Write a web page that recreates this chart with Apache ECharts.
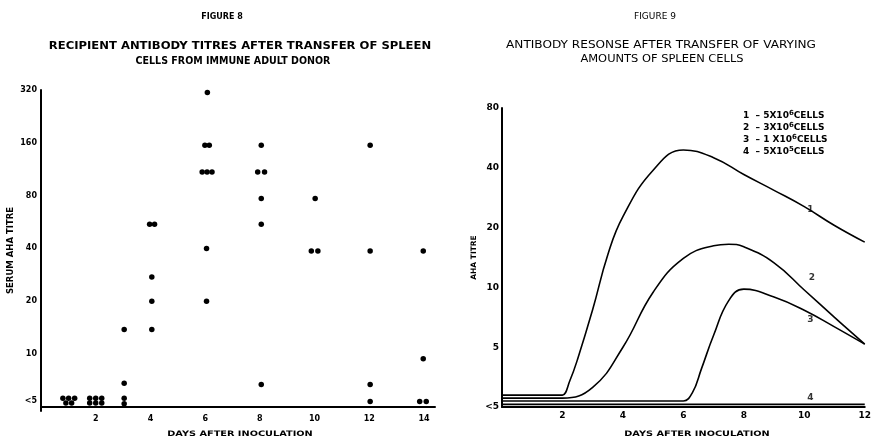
<!DOCTYPE html>
<html><head><meta charset="utf-8">
<script src="https://cdn.jsdelivr.net/npm/echarts@6/dist/echarts.min.js"></script>
<style>html,body{margin:0;padding:0;background:#fff}#c{width:874px;height:441px}</style>
</head><body><div id="c"></div>
<script>
// ---- Figure 8 : individual recipient titres (scatter) ----
const fig8Days = [0.80,1.01,1.23,0.91,1.12, 1.78,2.0,2.22,1.78,2.0,2.22, 3.04,3.04,3.04,3.04,
  4.05,4.05,4.05,3.97,4.15, 6.08,5.99,6.15,5.89,6.07,6.25,6.05,6.05,
  8.05,7.92,8.17,8.05,8.05,8.05, 10.02,9.88,10.12, 12.03,12.03,12.03,12.03, 13.97,13.97,13.84,14.08];
const fig8Titres = [5.6,5.6,5.6,5.25,5.25, 5.6,5.6,5.6,5.25,5.25,5.25, 13.8,6.8,5.6,5.2,
  13.8,20,27.5,55,55, 310,155,155,109,109,109,40,20,
  155,109,109,77,55,6.7, 77,38.6,38.6, 155,38.6,6.7,5.35, 38.6,9.4,5.35,5.35];
const fig8TickTitres = [5.4,10,20,40,80,160,320];
const fig8TickLabels = ['<5','10','20','40','80','160','320'];
const fig8XTicks = [2,4,6,8,10,12,14];

// ---- Figure 9 : antibody response curves ----
const fig9TickTitres = [2.5,5,10,20,40,80];
const fig9TickLabels = ['<5','5','10','20','40','80'];
const fig9XTicks = [2,4,6,8,10,12];

const curve1Days = [0,1.9,2,2.25,2.5,3,3.5,4,5,6,7,8,9,10,11,12];
const curve1Titres = [2.87,2.87,2.87,3.41,4.35,7.74,14.6,22.7,38.9,49.2,45.0,37.0,30.8,25.5,20.5,16.9];
const curve2Days = [0,1.9,2,3,4,5,6,7,7.5,8,9,10,11,12];
const curve2Titres = [2.77,2.77,2.77,3.14,5.0,9.46,14.0,16.2,16.5,16.0,13.3,9.7,7.07,5.18];
const curve3Days = [0,5.9,6,6.3,6.6,7,7.5,8,9,10,11,12];
const curve3Titres = [2.68,2.68,2.68,2.95,3.9,5.74,8.58,9.8,8.95,7.68,6.33,5.18];
const curve4Days = [0,12];
const curve4Titres = [2.58,2.58];

const curveLabelText = ['1','2','3','4'];
const curveLabelDays = [10.2,10.25,10.2,10.2];
const curveLabelTitres = [24.5,11.25,6.9,2.78];

const p8 = t => Math.log2(t / 5);
const p9 = t => Math.log2(t / 2.5);
const nearestLabel = (v, vals, labels) => {
  let bi = 0, bd = Infinity;
  vals.forEach((x, i) => { const d = Math.abs(x - v); if (d < bd) { bd = d; bi = i; } });
  return labels[bi];
};

const FONT = 'DejaVu Sans';
const axisLine = { show: true, lineStyle: { color: '#000', width: 2 } };

const mkCurve = (days, titres, w) => ({
  type: 'line', xAxisIndex: 1, yAxisIndex: 1,
  data: days.map((d, i) => [d, p9(titres[i])]),
  smooth: 0.45, showSymbol: false, symbol: 'none',
  lineStyle: { color: '#000', width: w || 1.6 }, silent: true, z: 3
});

const txt = (x, y, text, font, sx) => ({
  type: 'text', x, y, scaleX: sx || 1,
  style: { text, fill: '#000', font, align: 'center', verticalAlign: 'middle' }
});

const chart = echarts.init(document.getElementById('c'), null, { renderer: 'canvas' });
chart.setOption({
  animation: false,
  backgroundColor: '#fff',
  grid: [
    { left: 41, top: 90, width: 394, height: 321 },
    { left: 502, top: 108, width: 364, height: 299 }
  ],
  xAxis: [
    { gridIndex: 0, type: 'value', min: 0, max: 14.4,
      axisLine, axisTick: { show: false }, splitLine: { show: false },
      axisLabel: { customValues: fig8XTicks, color: '#000', fontFamily: FONT, fontWeight: 'bold', fontSize: 8, margin: 4 } },
    { gridIndex: 1, type: 'value', min: 0, max: 12,
      axisLine, axisTick: { show: false }, splitLine: { show: false },
      axisLabel: { customValues: fig9XTicks, color: '#000', fontFamily: FONT, fontWeight: 'bold', fontSize: 9, margin: 4 } }
  ],
  yAxis: [
    { gridIndex: 0, type: 'value', min: -0.08, max: 6,
      axisLine, axisTick: { show: false }, splitLine: { show: false },
      axisLabel: { customValues: fig8TickTitres.map(p8), color: '#000', fontFamily: FONT, fontWeight: 'bold', fontSize: 8, margin: 4,
        formatter: v => nearestLabel(v, fig8TickTitres.map(p8), fig8TickLabels) },
      name: 'SERUM AHA TITRE', nameLocation: 'middle', nameGap: 26, nameRotate: 90,
      nameTextStyle: { color: '#000', fontFamily: FONT, fontWeight: 'bold', fontSize: 8.5 } },
    { gridIndex: 1, type: 'value', min: 0, max: 5, interval: 1,
      axisLine, axisTick: { show: false }, splitLine: { show: false },
      axisLabel: { customValues: fig9TickTitres.map(p9), color: '#000', fontFamily: FONT, fontWeight: 'bold', fontSize: 9, margin: 3,
        formatter: v => nearestLabel(v, fig9TickTitres.map(p9), fig9TickLabels) },
      name: 'AHA TITRE', nameLocation: 'middle', nameGap: 24, nameRotate: 90,
      nameTextStyle: { color: '#000', fontFamily: FONT, fontWeight: 'bold', fontSize: 7.5 } }
  ],
  series: [
    { type: 'scatter', xAxisIndex: 0, yAxisIndex: 0,
      data: fig8Days.map((d, i) => [d, p8(fig8Titres[i])]),
      symbol: 'circle', symbolSize: 5.5, itemStyle: { color: '#000', opacity: 1 }, silent: true },
    mkCurve(curve1Days, curve1Titres),
    mkCurve(curve2Days, curve2Titres),
    mkCurve(curve3Days, curve3Titres),
    mkCurve(curve4Days, curve4Titres, 1.8),
    { type: 'scatter', xAxisIndex: 1, yAxisIndex: 1, symbolSize: 0, silent: true,
      data: curveLabelDays.map((d, i) => [d, p9(curveLabelTitres[i]), curveLabelText[i]]),
      label: { show: true, position: 'inside', formatter: p => p.value[2], color: '#000',
        fontFamily: FONT, fontWeight: 'bold', fontSize: 9 } }
  ],
  graphic: [
    txt(222, 17, 'FIGURE 8', 'bold 8px "DejaVu Sans"'),
    txt(240, 46, 'RECIPIENT ANTIBODY TITRES AFTER TRANSFER OF SPLEEN', 'bold 10px "DejaVu Sans"', 1.16),
    txt(233, 61, 'CELLS FROM IMMUNE ADULT DONOR', 'bold 10px "DejaVu Sans"', 0.95),
    txt(240, 434, 'DAYS AFTER INOCULATION', 'bold 7.5px "DejaVu Sans"', 1.3),
    txt(655, 17, 'FIGURE 9', '9px "DejaVu Sans"'),
    txt(661, 45, 'ANTIBODY RESONSE AFTER TRANSFER OF VARYING', '11px "DejaVu Sans"', 1.1),
    txt(662, 59, 'AMOUNTS OF SPLEEN CELLS', '11px "DejaVu Sans"', 1.04),
    txt(697, 434, 'DAYS AFTER INOCULATION', 'bold 7.5px "DejaVu Sans"', 1.3),
    { type: 'text', x: 743, y: 110, style: {
      text: '1  – 5X10{s|6}CELLS\n2  – 3X10{s|6}CELLS\n3  – 1 X10{s|6}CELLS\n4  – 5X10{s|5}CELLS',
      fill: '#000', font: 'bold 9px "DejaVu Sans"', lineHeight: 12, align: 'left', verticalAlign: 'top',
      rich: { s: { fontSize: 7, fontWeight: 'bold', fontFamily: FONT, fill: '#000', verticalAlign: 'top', lineHeight: 12, padding: [0, 0, 5, 0] } }
    } }
  ]
});
</script></body></html>
